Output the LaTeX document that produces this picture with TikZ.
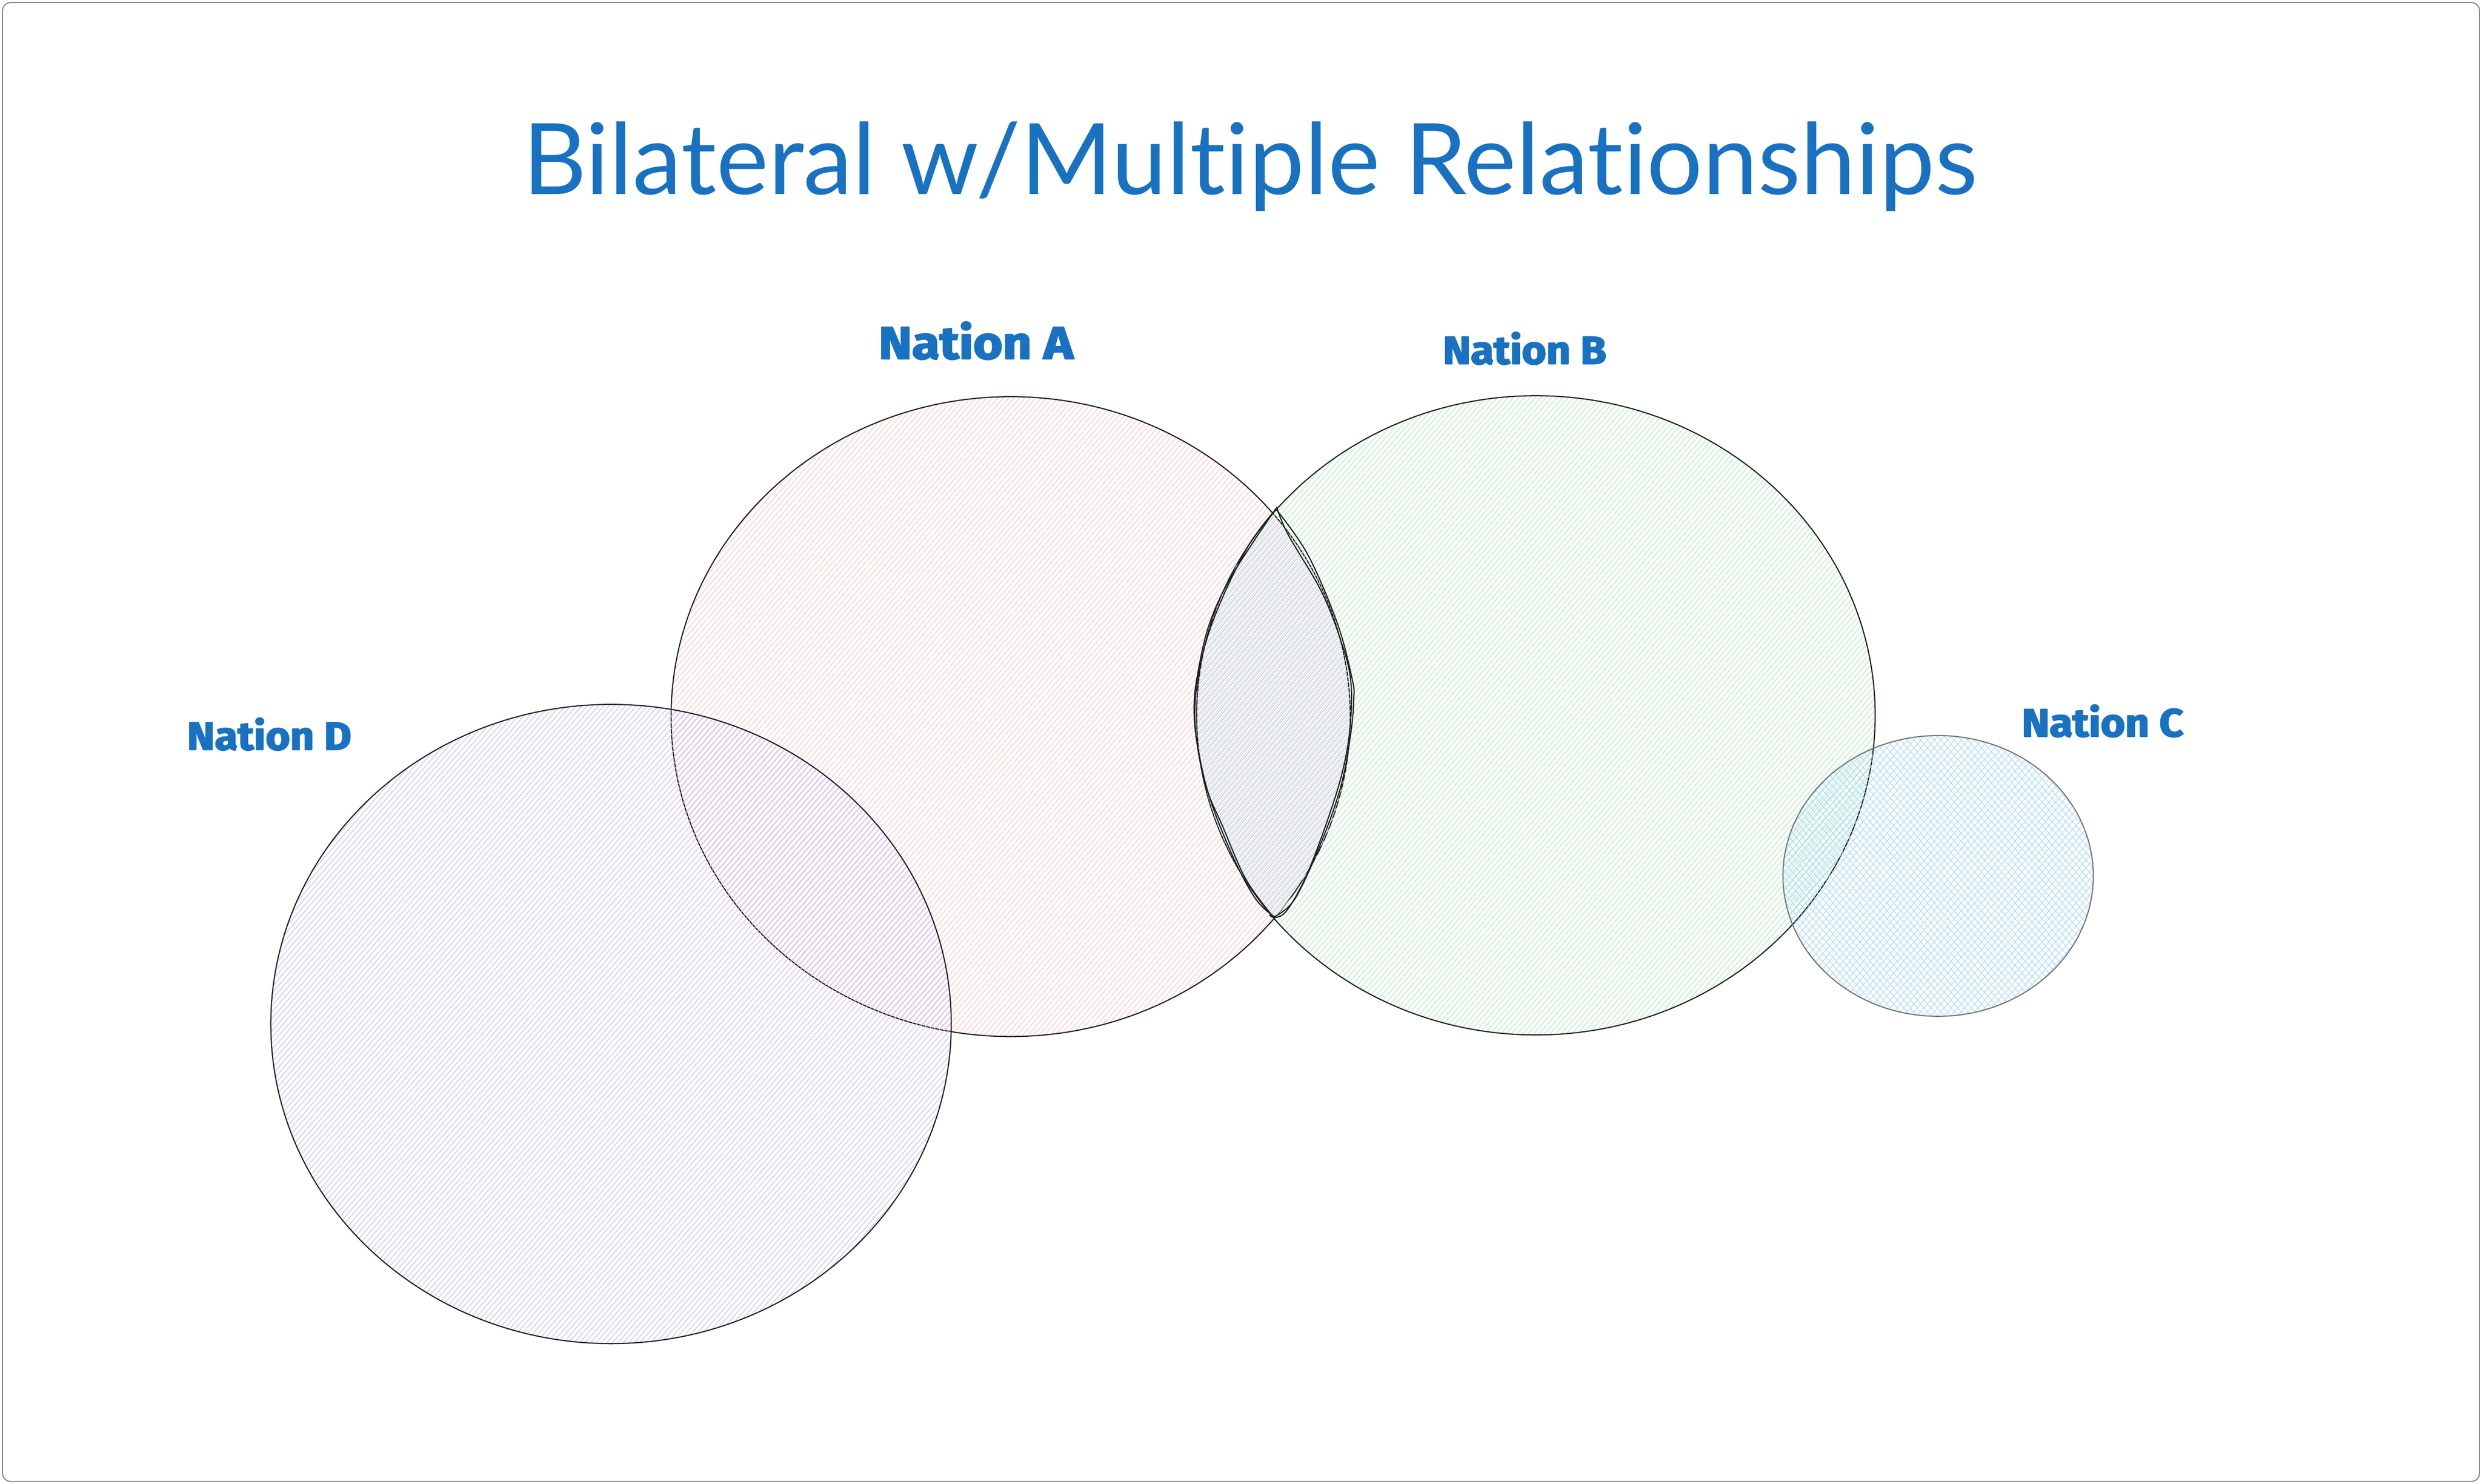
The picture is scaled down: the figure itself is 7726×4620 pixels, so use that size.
\documentclass[tikz,border=0pt]{standalone}
\usepackage{fontspec}
\setmainfont{Lato}[Ligatures=NoCommon]
\newfontfamily\labelfont{Fira Sans}[BoldFeatures={FakeBold=3}]
\definecolor{txtblue}{HTML}{1971C2}
\definecolor{strokeblk}{HTML}{1E1E1E}
\definecolor{framegray}{HTML}{7B7B7B}
\definecolor{cgray}{HTML}{757575}
\definecolor{hatchred}{HTML}{FFC9C9}
\definecolor{hatchgreen}{HTML}{B2F2BB}
\definecolor{hatchblue}{HTML}{A5D8FF}
\definecolor{hatchviolet}{HTML}{D0BFFF}
% hatch lines rising to the right: x0, x1, ytop, ybot, offset, step
\newcommand{\hatchup}[6]{%
  \pgfmathsetmacro{\hhk}{(#4-#3)*0.8693}%
  \pgfmathsetmacro{\hcs}{#1-\hhk+#5}%
  \pgfmathsetmacro{\hcn}{\hcs+#6}%
  \foreach \c in {\hcs,\hcn,...,#2} {\draw (\c,#4) -- ++(\hhk,#3-#4);}%
}
% hatch lines rising to the left: x0, x1, ytop, ybot, offset, step
\newcommand{\hatchdown}[6]{%
  \pgfmathsetmacro{\hhk}{(#4-#3)*0.8693}%
  \pgfmathsetmacro{\hcs}{#1+#5}%
  \pgfmathsetmacro{\hcn}{\hcs+#6}%
  \pgfmathsetmacro{\hce}{#2+\hhk}%
  \foreach \c in {\hcs,\hcn,...,\hce} {\draw (\c,#4) -- ++(-\hhk,#3-#4);}%
}
\begin{document}
\begin{tikzpicture}[x=0.01cm,y=-0.01cm,line join=round,line cap=round,
  outl/.style={draw=strokeblk,line width=0.035cm},
  hatchln/.style={line width=0.022cm},
  lbl/.style={inner sep=0pt,text=txtblue,font=\labelfont\bfseries,anchor=base}]
\useasboundingbox (0,0) rectangle (7726,4620);
\fill[white] (0,0) rectangle (7726,4620);
\draw[framegray,line width=0.03cm,rounded corners=0.25cm] (8,8) rectangle (7718,4612);

% Nation A ellipse
\begin{scope}
  \clip (3146,2231) ellipse [x radius=1057, y radius=996];
  \begin{scope}[hatchln,hatchred]\hatchup{2089}{4203}{1235}{3227}{0}{17}\end{scope}
\end{scope}
\draw[outl] (3146,2231) ellipse [x radius=1057, y radius=996];

% Nation B ellipse
\begin{scope}
  \clip (4781,2227) ellipse [x radius=1056, y radius=995];
  \begin{scope}[hatchln,hatchgreen]\hatchup{3725}{5837}{1232}{3222}{5}{17}\end{scope}
\end{scope}
\draw[outl] (4781,2227) ellipse [x radius=1056, y radius=995];

% lens (A and B)
\begin{scope}
  \clip (3146,2231) ellipse [x radius=1057, y radius=996];
  \clip (4781,2227) ellipse [x radius=1056, y radius=995];
  \begin{scope}[hatchln,hatchblue]\hatchup{3700}{4230}{1570}{2870}{9}{17}\end{scope}
\end{scope}
\draw[outl] plot[smooth,tension=0.6] coordinates {(3971,1584) (3837,1788) (3765,1941) (3727,2104) (3717,2206) (3727,2318) (3765,2482) (3837,2665) (3908,2798) (3967,2854)};
\draw[outl] plot[smooth,tension=0.6] coordinates {(3971,1584) (4071,1727) (4163,1941) (4209,2114) (4214,2176) (4204,2288) (4173,2451) (4112,2624) (4031,2798) (3967,2854)};
\draw[outl] plot[smooth,tension=0.6] coordinates {(3964,1594) (3888,1696) (3806,1859) (3750,2012) (3722,2165) (3724,2298) (3755,2451) (3806,2573) (3878,2737) (3959,2849)};
\draw[outl] plot[smooth,tension=0.6] coordinates {(3974,1579) (4010,1665) (4112,1839) (4173,1992) (4204,2114) (4204,2247) (4184,2380) (4143,2522) (4071,2716) (4010,2829) (3974,2856) (3952,2850)};

% Nation D ellipse
\begin{scope}
  \clip (1902,3188) ellipse [x radius=1059, y radius=995];
  \begin{scope}[hatchln,hatchviolet]\hatchup{843}{2961}{2193}{4183}{3}{17}\end{scope}
\end{scope}
\draw[outl] (1902,3188) ellipse [x radius=1059, y radius=995];

% Nation C ellipse (cross-hatch)
\begin{scope}
  \clip (6033,2727) ellipse [x radius=483, y radius=437];
  \begin{scope}[line width=0.018cm,hatchblue]
    \hatchup{5550}{6516}{2290}{3164}{0}{21}
    \hatchdown{5550}{6516}{2290}{3164}{0}{21}
  \end{scope}
\end{scope}
\draw[cgray,line width=0.035cm] (6033,2727) ellipse [x radius=483, y radius=437];

% texts
\node[inner sep=0pt,text=txtblue,anchor=base] (title) at (3891,605) {\resizebox{45.23cm}{!}{Bilateral w/Multiple Relationships}};
\node[lbl] (nA) at (3038,1117) {\resizebox{6.05cm}{1.15cm}{Nation A}};
\node[lbl] (nB) at (4746,1133) {\resizebox{5.08cm}{0.99cm}{Nation B}};
\node[lbl] (nC) at (6545,2293) {\resizebox{5.03cm}{0.99cm}{Nation C}};
\node[lbl] (nD) at (838,2334) {\resizebox{5.11cm}{0.99cm}{Nation D}};
\end{tikzpicture}
\end{document}
